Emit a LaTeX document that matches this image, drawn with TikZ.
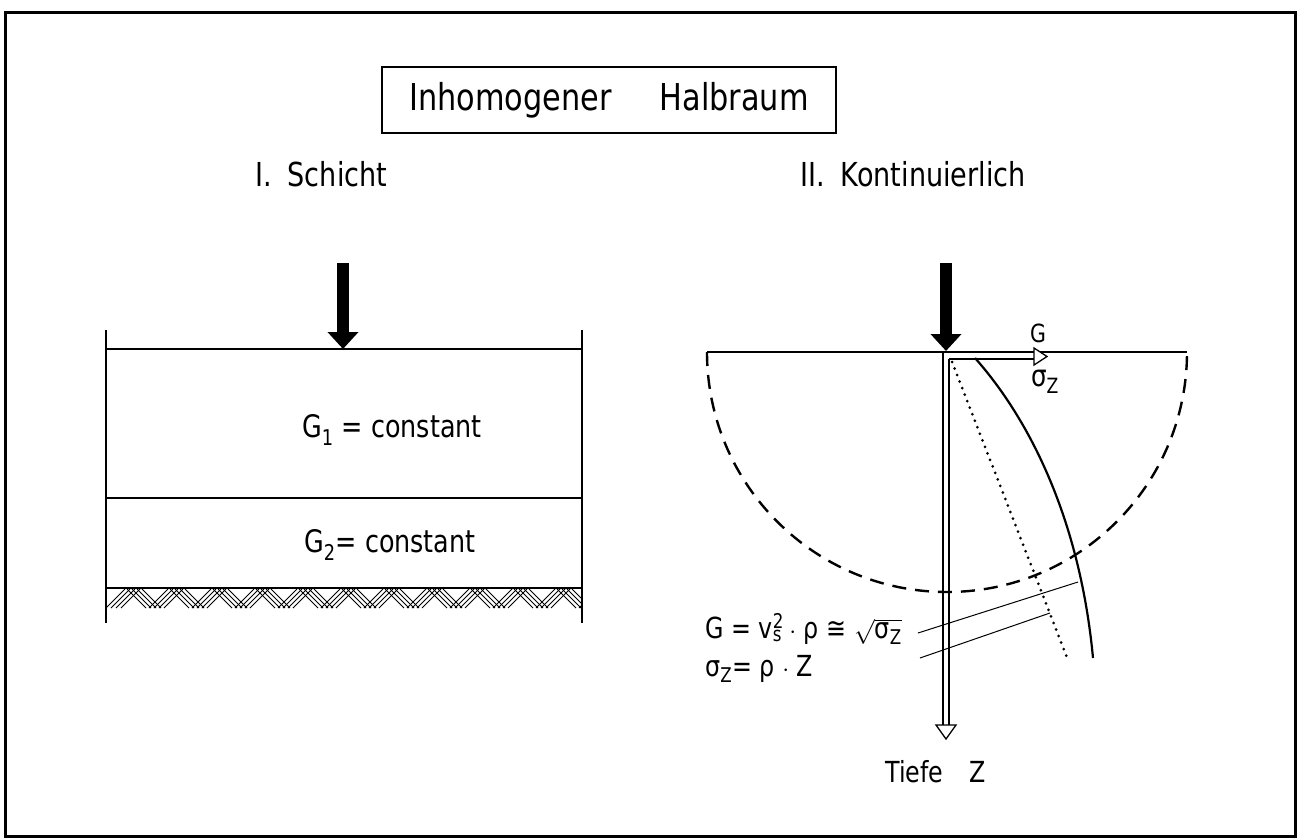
\documentclass[tikz,border=0pt]{standalone}
\usepackage{fontspec}
\setmainfont{DejaVu Sans}[FakeStretch=0.82]
\usepackage{tikz}
\usetikzlibrary{arrows.meta}

\begin{document}
\begin{tikzpicture}[x=1pt, y=-1pt,
  txt/.style={inner sep=0pt, font=\fontsize{#1pt}{#1pt}\selectfont},
  heavy/.style={line width=2.4pt},
  thinline/.style={line width=1.3pt},
  load/.style={line width=12pt, -{Triangle[length=17pt, width=30pt]}}]
  \useasboundingbox (0,0) rectangle (1299,840);
  \draw[line width=3pt] (5,13) rectangle (1295,836);
  % title
  \draw[thinline] (382,67) rectangle (836,133);
  \node[txt=37] (title) at (609,100) {Inhomogener\hspace{48pt}Halbraum};
  \node[txt=33, anchor=west] (left) at (255,174) {I.\hspace{16pt}Schicht};
  \node[txt=33, anchor=west] (right) at (800,174) {II.\hspace{16pt}Kontinuierlich};
  % I. layers
  \coordinate (LT) at (343,263);
  \coordinate (LO) at (343,349);
  \draw[load] (LT) -- (LO);
  \draw[heavy] (106,349) -- (582,349);
  \draw[thinline] (106,330) -- (106,623);
  \draw[thinline] (582,330) -- (582,623);
  \draw[heavy] (106,498) -- (582,498);
  \draw[heavy] (106,588) -- (582,588);
  \begin{scope}
    \clip (106,589) rectangle (582,608);
    \foreach \i in {0,...,11} {
      \foreach \k in {0,5,10,15} {
        \draw[line width=1pt] ({106+43*\i+\k},608) -- ++(19,-19);
        \draw[line width=1pt] ({127+43*\i+\k},589) -- ++(19,19);
      }
    }
  \end{scope}
  \node[txt=31, anchor=west] (G1) at (302,430) {G\textsubscript{1} = constant};
  \node[txt=31, anchor=west] (G2) at (304,545) {G\textsubscript{2}= constant};
  % II. continuous
  \coordinate (RT) at (946,263);
  \coordinate (O) at (946,351);
  \draw[load] (RT) -- (O);
  \draw[heavy] (707,352) -- (1187,352);
  \draw[heavy, dash pattern=on 14pt off 9pt] (707,352) arc[start angle=180, end angle=360, radius=240pt];
  \coordinate (Zb) at (946,725);
  \coordinate (Gr) at (1034,359);
  \draw[thinline] (943,352) -- (943,725);
  \draw[thinline] (949,359) -- (949,725) (949,359) -- (Gr);
  \draw[thinline, fill=white] (936,725) -- (956,725) -- (946,739) -- cycle;
  \draw[thinline, fill=white] (1034,348) -- (1034,365) -- (1047,356.5) -- cycle;
  \node[txt=25] (Glab) at (1038,333) {G};
  \node[txt=30] (slab) at (1045,382) {σ\textsubscript{Z}};
  \draw[line width=2.2pt] (975,358) .. controls (1030,420) and (1080,520) .. (1093,658);
  \coordinate (D0) at (952,362);
  \coordinate (D1) at (1068,660);
  \draw[line width=3pt, line cap=round, dash pattern=on 0pt off 7pt] (D0) -- (D1);
  \node[txt=29, anchor=base west] (f1) at (705,638) {G = v\rlap{\textsuperscript{2}}\textsubscript{s} $\cdot$ ρ ≅ $\sqrt{\mbox{σ\textsubscript{Z}}}$};
  \node[txt=29, anchor=base west] (f2) at (705,676) {σ\textsubscript{Z}= ρ $\cdot$ Z};
  \coordinate (c1) at (1078,582);
  \coordinate (c2) at (1050,613);
  \draw[line width=1pt] (918,633) -- (c1);
  \draw[line width=1pt] (920,658) -- (c2);
  \node[txt=29, anchor=west] (depth) at (885,772) {Tiefe\hspace{26pt}Z};
\end{tikzpicture}
\end{document}
